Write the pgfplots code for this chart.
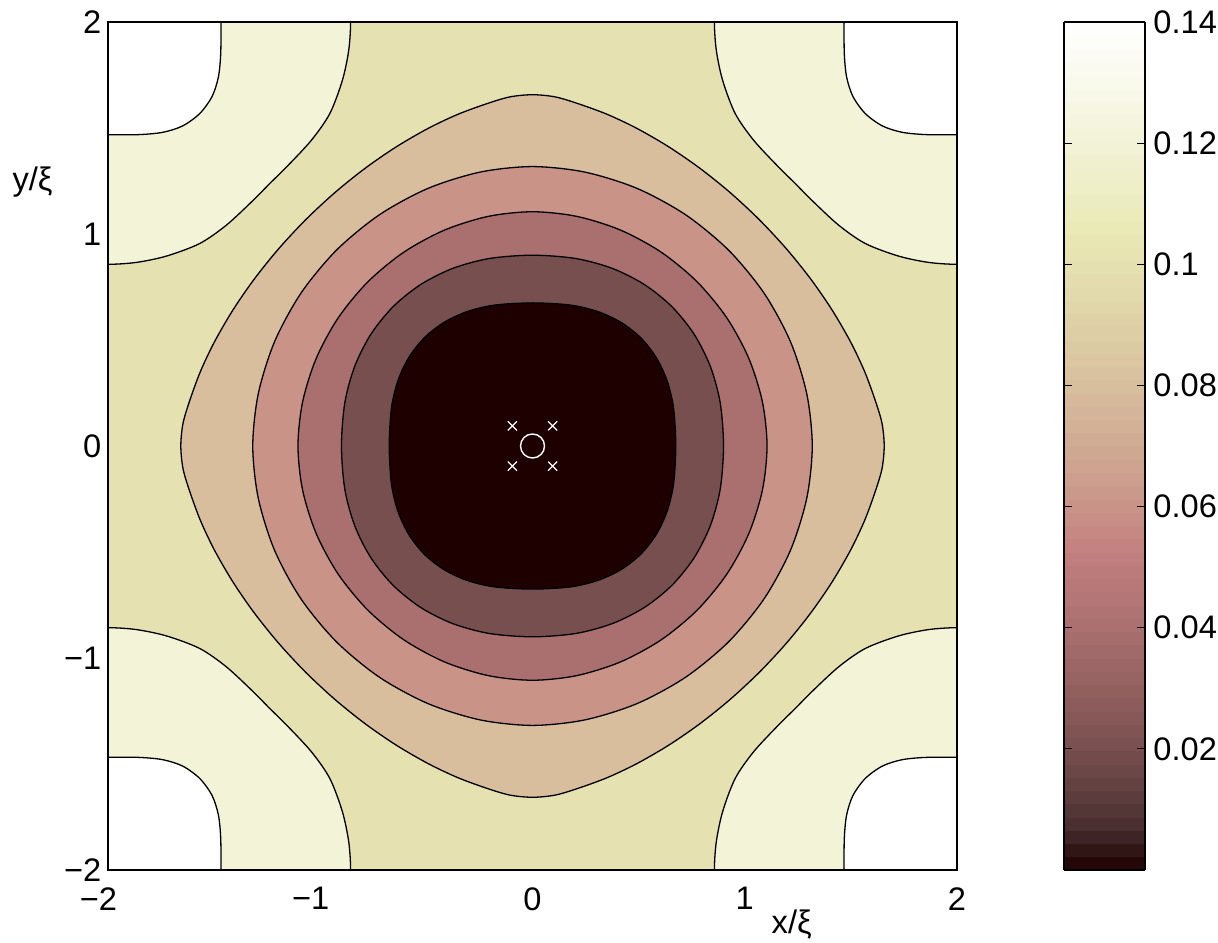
\documentclass[border=0pt]{standalone}
\usepackage{fontspec}
\setmainfont{Liberation Sans}
\usepackage{pgfplots}
\pgfplotsset{compat=1.18}
\usepackage{pgfplotstable}
\newcommand\fs{\fontsize{16.3}{19.5}\selectfont}

\definecolor{cA}{RGB}{30,0,0}
\definecolor{cB}{RGB}{120,79,79}
\definecolor{cC}{RGB}{170,111,111}
\definecolor{cD}{RGB}{201,147,136}
\definecolor{cE}{RGB}{216,190,157}
\definecolor{cF}{RGB}{229,225,176}
\definecolor{cG}{RGB}{243,243,216}

% contour level 0.02
\pgfplotstableread{
x y
0.675 0
0.6645 0.1801
0.6332 0.3105
0.5814 0.4197
0.5101 0.5101
0.4197 0.5814
0.3105 0.6332
0.1801 0.6645
0 0.675
-0.1801 0.6645
-0.3105 0.6332
-0.4197 0.5814
-0.5101 0.5101
-0.5814 0.4197
-0.6332 0.3105
-0.6645 0.1801
-0.675 0
-0.6645 -0.1801
-0.6332 -0.3105
-0.5814 -0.4197
-0.5101 -0.5101
-0.4197 -0.5814
-0.3105 -0.6332
-0.1801 -0.6645
0 -0.675
0.1801 -0.6645
0.3105 -0.6332
0.4197 -0.5814
0.5101 -0.5101
0.5814 -0.4197
0.6332 -0.3105
0.6645 -0.1801
}\tabA
% contour level 0.04
\pgfplotstableread{
x y
0.9 0
0.8843 0.204
0.8376 0.3763
0.7611 0.5278
0.657 0.657
0.5278 0.7611
0.3763 0.8376
0.204 0.8843
0 0.9
-0.204 0.8843
-0.3763 0.8376
-0.5278 0.7611
-0.657 0.657
-0.7611 0.5278
-0.8376 0.3763
-0.8843 0.204
-0.9 0
-0.8843 -0.204
-0.8376 -0.3763
-0.7611 -0.5278
-0.657 -0.657
-0.5278 -0.7611
-0.3763 -0.8376
-0.204 -0.8843
0 -0.9
0.204 -0.8843
0.3763 -0.8376
0.5278 -0.7611
0.657 -0.657
0.7611 -0.5278
0.8376 -0.3763
0.8843 -0.204
}\tabB
% contour level 0.06
\pgfplotstableread{
x y
1.105 0
1.0833 0.2075
1.019 0.4134
0.9148 0.6055
0.775 0.775
0.6055 0.9148
0.4134 1.019
0.2075 1.0833
0 1.105
-0.2075 1.0833
-0.4134 1.019
-0.6055 0.9148
-0.775 0.775
-0.9148 0.6055
-1.019 0.4134
-1.0833 0.2075
-1.105 0
-1.0833 -0.2075
-1.019 -0.4134
-0.9148 -0.6055
-0.775 -0.775
-0.6055 -0.9148
-0.4134 -1.019
-0.2075 -1.0833
0 -1.105
0.2075 -1.0833
0.4134 -1.019
0.6055 -0.9148
0.775 -0.775
0.9148 -0.6055
1.019 -0.4134
1.0833 -0.2075
}\tabC
% contour level 0.08
\pgfplotstableread{
x y
1.318 0
1.292 0.2466
1.2152 0.4922
1.0907 0.7213
0.9237 0.9237
0.7213 1.0907
0.4922 1.2152
0.2466 1.292
0 1.318
-0.2466 1.292
-0.4922 1.2152
-0.7213 1.0907
-0.9237 0.9237
-1.0907 0.7213
-1.2152 0.4922
-1.292 0.2466
-1.318 0
-1.292 -0.2466
-1.2152 -0.4922
-1.0907 -0.7213
-0.9237 -0.9237
-0.7213 -1.0907
-0.4922 -1.2152
-0.2466 -1.292
0 -1.318
0.2466 -1.292
0.4922 -1.2152
0.7213 -1.0907
0.9237 -0.9237
1.0907 -0.7213
1.2152 -0.4922
1.292 -0.2466
}\tabD
% contour level 0.10
\pgfplotstableread{
x y
1.657 0
1.647 0.105
1.6168 0.2088
1.5652 0.35
1.4988 0.4905
1.4123 0.64
1.3114 0.7867
1.1963 0.93
1.068 1.068
0.93 1.1963
0.7867 1.3114
0.64 1.4123
0.4905 1.4988
0.35 1.5652
0.2088 1.6168
0.105 1.647
0 1.657
-0.105 1.647
-0.2088 1.6168
-0.35 1.5652
-0.4905 1.4988
-0.64 1.4123
-0.7867 1.3114
-0.93 1.1963
-1.068 1.068
-1.1963 0.93
-1.3114 0.7867
-1.4123 0.64
-1.4988 0.4905
-1.5652 0.35
-1.6168 0.2088
-1.647 0.105
-1.657 0
-1.647 -0.105
-1.6168 -0.2088
-1.5652 -0.35
-1.4988 -0.4905
-1.4123 -0.64
-1.3114 -0.7867
-1.1963 -0.93
-1.068 -1.068
-0.93 -1.1963
-0.7867 -1.3114
-0.64 -1.4123
-0.4905 -1.4988
-0.35 -1.5652
-0.2088 -1.6168
-0.105 -1.647
0 -1.657
0.105 -1.647
0.2088 -1.6168
0.35 -1.5652
0.4905 -1.4988
0.64 -1.4123
0.7867 -1.3114
0.93 -1.1963
1.068 -1.068
1.1963 -0.93
1.3114 -0.7867
1.4123 -0.64
1.4988 -0.4905
1.5652 -0.35
1.6168 -0.2088
1.647 -0.105
}\tabE
% contour level 0.12 around a corner maximum (offsets from the corner)
\pgfplotstableread{
x y
1.143 0
1.134 0.134
1.104 0.276
1.045 0.432
0.958 0.558
0.841 0.684
0.762 0.762
0.684 0.841
0.558 0.958
0.432 1.045
0.276 1.104
0.134 1.134
0 1.143
-0.134 1.134
-0.276 1.104
-0.432 1.045
-0.558 0.958
-0.684 0.841
-0.762 0.762
-0.841 0.684
-0.958 0.558
-1.045 0.432
-1.104 0.276
-1.134 0.134
-1.143 0
-1.134 -0.134
-1.104 -0.276
-1.045 -0.432
-0.958 -0.558
-0.841 -0.684
-0.762 -0.762
-0.684 -0.841
-0.558 -0.958
-0.432 -1.045
-0.276 -1.104
-0.134 -1.134
0 -1.143
0.134 -1.134
0.276 -1.104
0.432 -1.045
0.558 -0.958
0.684 -0.841
0.762 -0.762
0.841 -0.684
0.958 -0.558
1.045 -0.432
1.104 -0.276
1.134 -0.134
}\tabF
% contour level 0.14 around a corner maximum
\pgfplotstableread{
x y
0.532 0
0.531 0.15
0.52 0.26
0.49 0.352
0.432 0.432
0.352 0.49
0.26 0.52
0.15 0.531
0 0.532
-0.15 0.531
-0.26 0.52
-0.352 0.49
-0.432 0.432
-0.49 0.352
-0.52 0.26
-0.531 0.15
-0.532 0
-0.531 -0.15
-0.52 -0.26
-0.49 -0.352
-0.432 -0.432
-0.352 -0.49
-0.26 -0.52
-0.15 -0.531
0 -0.532
0.15 -0.531
0.26 -0.52
0.352 -0.49
0.432 -0.432
0.49 -0.352
0.52 -0.26
0.531 -0.15
}\tabG

\begin{document}
\begin{tikzpicture}
\begin{axis}[
  at={(0,0)}, anchor=south west,
  scale only axis, width=424.5pt, height=424pt,
  xmin=-2, xmax=2, ymin=-2, ymax=2,
  axis on top,
  axis line style={line width=1.2pt},
  xtick={-2,-1,0,1,2}, ytick={-2,-1,0,1,2},
  xticklabels={\llap{−}2,\llap{−}1,0,1,2},
  yticklabels={−2,−1,0,1,2},
  major tick length=0pt,
  every tick label/.append style={font=\fs},
  xticklabel style={inner sep=0pt, yshift=-8.5pt},
  yticklabel style={inner sep=0pt, xshift=-3.2pt},
  axis background/.style={fill=cF},
  cont/.style={draw=black, line width=0.65pt, smooth cycle},
  point meta min=0, point meta max=0.14,
  colormap={pinksmooth}{rgb(0)=(0.118,0,0); rgb(50)=(0.279,0.183,0.183);
    rgb(100)=(0.394,0.258,0.258); rgb(150)=(0.483,0.316,0.316);
    rgb(200)=(0.558,0.365,0.365); rgb(250)=(0.624,0.408,0.408);
    rgb(300)=(0.683,0.447,0.447); rgb(375)=(0.764,0.5,0.5);
    rgb(450)=(0.796,0.606,0.548); rgb(500)=(0.816,0.667,0.577);
    rgb(575)=(0.847,0.749,0.619); rgb(625)=(0.866,0.799,0.645);
    rgb(700)=(0.894,0.869,0.683); rgb(750)=(0.913,0.913,0.707);
    rgb(813)=(0.935,0.935,0.791); rgb(875)=(0.957,0.957,0.866);
    rgb(938)=(0.979,0.979,0.935); rgb(1000)=(1,1,1)},
  colorbar sampled,
  colorbar style={
    at={(parent axis.north east)}, anchor=north west, xshift=45pt,
    scale only axis, width=40.5pt, height=424pt,
    samples=65,
    axis on top,
    axis line style={line width=0.8pt},
    ytick={0.02,0.04,0.06,0.08,0.1,0.12,0.14},
    yticklabels={0.02,0.04,0.06,0.08,0.1,0.12,0.14},
    ytick pos=both, yticklabel pos=right,
    tick align=inside, major tick length=4pt,
    major tick style={line width=0.6pt, black},
    yticklabel style={font=\fs, inner sep=0pt, xshift=4pt},
  },
]
% corner regions
\addplot[cont, fill=cG] table[x expr=\thisrow{x}-2, y expr=\thisrow{y}+2] {\tabF};
\addplot[cont, fill=cG] table[x expr=\thisrow{x}+2, y expr=\thisrow{y}+2] {\tabF};
\addplot[cont, fill=cG] table[x expr=\thisrow{x}-2, y expr=\thisrow{y}-2] {\tabF};
\addplot[cont, fill=cG] table[x expr=\thisrow{x}+2, y expr=\thisrow{y}-2] {\tabF};
\addplot[cont, fill=white] table[x expr=\thisrow{x}-2, y expr=\thisrow{y}+2] {\tabG};
\addplot[cont, fill=white] table[x expr=\thisrow{x}+2, y expr=\thisrow{y}+2] {\tabG};
\addplot[cont, fill=white] table[x expr=\thisrow{x}-2, y expr=\thisrow{y}-2] {\tabG};
\addplot[cont, fill=white] table[x expr=\thisrow{x}+2, y expr=\thisrow{y}-2] {\tabG};
% central regions
\addplot[cont, fill=cE] table {\tabE};
\addplot[cont, fill=cD] table {\tabD};
\addplot[cont, fill=cC] table {\tabC};
\addplot[cont, fill=cB] table {\tabB};
\addplot[cont, fill=cA] table {\tabA};
% markers
\addplot[only marks, mark=o, mark size=6pt, white, line width=0.7pt] coordinates {(0,0)};
\addplot[only marks, mark=x, mark size=3.2pt, white, line width=0.6pt]
  coordinates {(-0.095,0.095) (0.095,0.095) (-0.095,-0.095) (0.095,-0.095)};
\end{axis}
\node[font=\fs, anchor=base] at (341.85pt,-31.5pt) {x/ξ};
\node[font=\fs, anchor=base] at (-37.75pt,339.5pt) {y/ξ};
\pgfresetboundingbox
\path[use as bounding box] (-54pt,-36pt) rectangle (555pt,435pt);
\end{tikzpicture}
\end{document}
